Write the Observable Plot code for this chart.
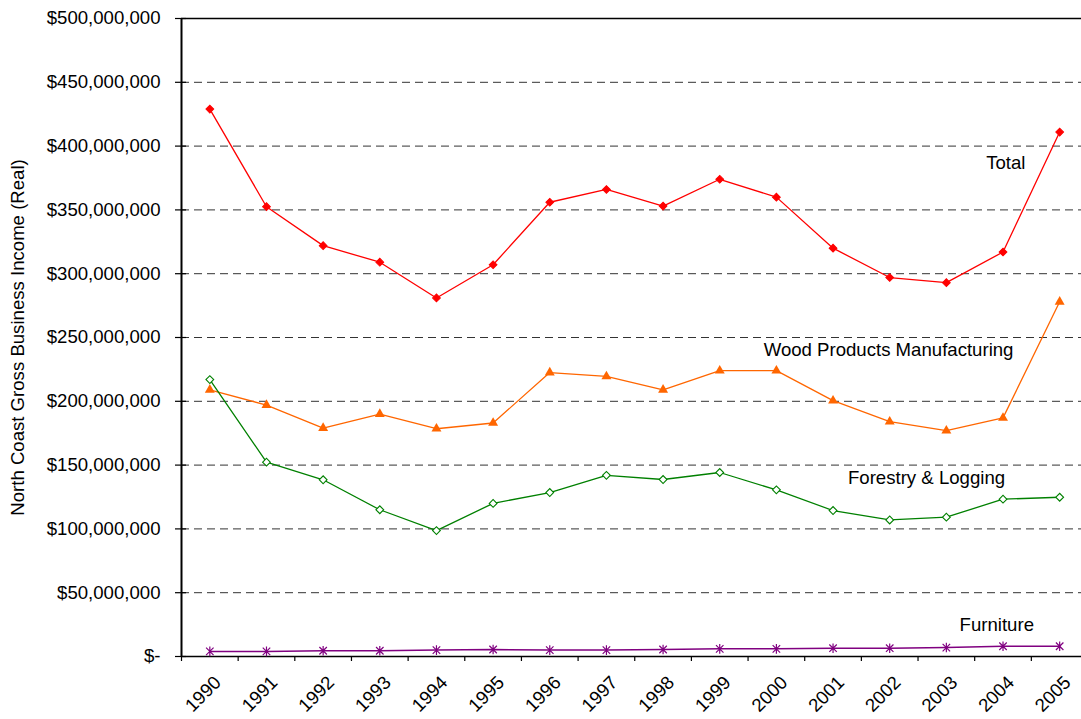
<!DOCTYPE html>
<html><head><meta charset="utf-8">
<script src="https://cdn.jsdelivr.net/npm/d3@7"></script>
<script src="https://cdn.jsdelivr.net/npm/@observablehq/plot@0.6"></script>
<style>body{margin:0;background:#fff;} svg{display:block;}</style>
</head><body><div id="chart"></div>
<script>
// Data (values in millions of dollars)
const years = [1990,1991,1992,1993,1994,1995,1996,1997,1998,1999,2000,2001,2002,2003,2004,2005];
const total = [429,352.5,322,309,281,307,356,366,353,374,360,320,297,293,317,411];
const woodProducts = [209,197,179,190,178.5,183,222.5,219.5,209,224,224,200.5,184,177,187,278];
const forestry = [217,152.3,138.5,115,98.7,120,128.5,142,138.7,144.2,130.6,114.4,107,109.2,123.3,124.8];
const furniture = [4,4,4.5,4.5,5,5.5,5,5,5.5,6,6,6.5,6.5,7,8,8];
const seriesNames = ["Total","Wood Products Manufacturing","Forestry & Logging","Furniture"];
const yTicks = [0,50,100,150,200,250,300,350,400,450,500].map(v => v * 1e6);
const axisTitle = "North Coast Gross Business Income (Real)";
// series label anchors (year, value in millions)
const labelYears = [2004.05, 2001.98, 2002.65, 2003.89];
const labelValues = [387, 240, 139.5, 24.3];

const seriesValues = [total, woodProducts, forestry, furniture];
const rows = seriesNames.flatMap((name, s) => years.map((year, i) => ({name, year, value: seriesValues[s][i] * 1e6})));
const labels = seriesNames.map((name, s) => ({name, year: labelYears[s], value: labelValues[s] * 1e6}));

const xDomain = [years[0] - 0.5, years[years.length - 1] + 0.5];
const boundaries = [...years.map(y => y - 0.5), years[years.length - 1] + 0.5];
const fmt = d => d === 0 ? "$-" : d3.format("$,")(d);

const asterisk = {
  draw(ctx, size) {
    const r = Math.sqrt(size / Math.PI);
    const d = r * 0.78;
    ctx.moveTo(0, -r); ctx.lineTo(0, r);
    ctx.moveTo(-d, -d); ctx.lineTo(d, d);
    ctx.moveTo(-d, d); ctx.lineTo(d, -d);
  }
};

const colors = {
  "Total": "#ff0000",
  "Wood Products Manufacturing": "#ff6600",
  "Forestry & Logging": "#008000",
  "Furniture": "#800080"
};
const sel = n => rows.filter(r => r.name === n);
const FS = 18.6;

const chart = Plot.plot({
  width: 1081,
  height: 719,
  marginTop: 18,
  marginBottom: 63,
  marginLeft: 181,
  marginRight: -6.5,
  style: {fontFamily: "'Liberation Sans', Arial, sans-serif", fontSize: FS + "px", color: "#000", background: "#fff"},
  x: {type: "linear", domain: xDomain, range: [181, 1087.5]},
  y: {domain: [0, 500e6], range: [656, 18]},
  marks: [
    Plot.ruleY(yTicks.filter(d => d > 0 && d < 500e6), {stroke: "#333", strokeWidth: 1, strokeDasharray: "8,5"}),
    Plot.ruleY([500e6], {stroke: "#000", strokeWidth: 1.5}),
    Plot.axisY(yTicks, {tickSize: 6, tickPadding: 15, tickFormat: fmt, label: null, fontSize: FS, strokeWidth: 1.2}),
    Plot.axisY(yTicks, {tickSize: 5, dx: 5, tickFormat: () => "", label: null, strokeWidth: 1.2}),
    Plot.axisX(boundaries, {tickSize: 5, tickFormat: () => "", label: null, strokeWidth: 1.2}),
    Plot.axisX(years, {tickSize: 0, tickPadding: 23, dx: 8, tickRotate: -45, tickFormat: d => String(d), label: null, fontSize: FS}),
    Plot.ruleY([0], {stroke: "#000", strokeWidth: 1.5}),
    Plot.ruleX([xDomain[0]], {stroke: "#000", strokeWidth: 2}),
    Plot.text([axisTitle], {frameAnchor: "left", textAnchor: "middle", rotate: -90, dx: -163, fontSize: FS}),
    // Total
    Plot.lineY(sel("Total"), {x: "year", y: "value", stroke: colors["Total"], strokeWidth: 1.3}),
    Plot.dot(sel("Total"), {x: "year", y: "value", symbol: "square", rotate: 45, r: 3.1, fill: colors["Total"], stroke: colors["Total"], strokeWidth: 1}),
    // Wood products
    Plot.lineY(sel("Wood Products Manufacturing"), {x: "year", y: "value", stroke: colors["Wood Products Manufacturing"], strokeWidth: 1.3}),
    Plot.dot(sel("Wood Products Manufacturing"), {x: "year", y: "value", symbol: "triangle", r: 3.7, fill: colors["Wood Products Manufacturing"], stroke: "none"}),
    // Forestry
    Plot.lineY(sel("Forestry & Logging"), {x: "year", y: "value", stroke: colors["Forestry & Logging"], strokeWidth: 1.3}),
    Plot.dot(sel("Forestry & Logging"), {x: "year", y: "value", symbol: "square", rotate: 45, r: 3.1, fill: "#fff", stroke: colors["Forestry & Logging"], strokeWidth: 1.1}),
    // Furniture
    Plot.lineY(sel("Furniture"), {x: "year", y: "value", stroke: colors["Furniture"], strokeWidth: 1.5}),
    Plot.dot(sel("Furniture"), {x: "year", y: "value", symbol: asterisk, r: 4.8, fill: "none", stroke: colors["Furniture"], strokeWidth: 1.2}),
    // labels
    Plot.text(labels, {x: "year", y: "value", text: "name", fontSize: FS, fill: "#000"})
  ]
});
document.getElementById("chart").appendChild(chart);
</script>
</body></html>
